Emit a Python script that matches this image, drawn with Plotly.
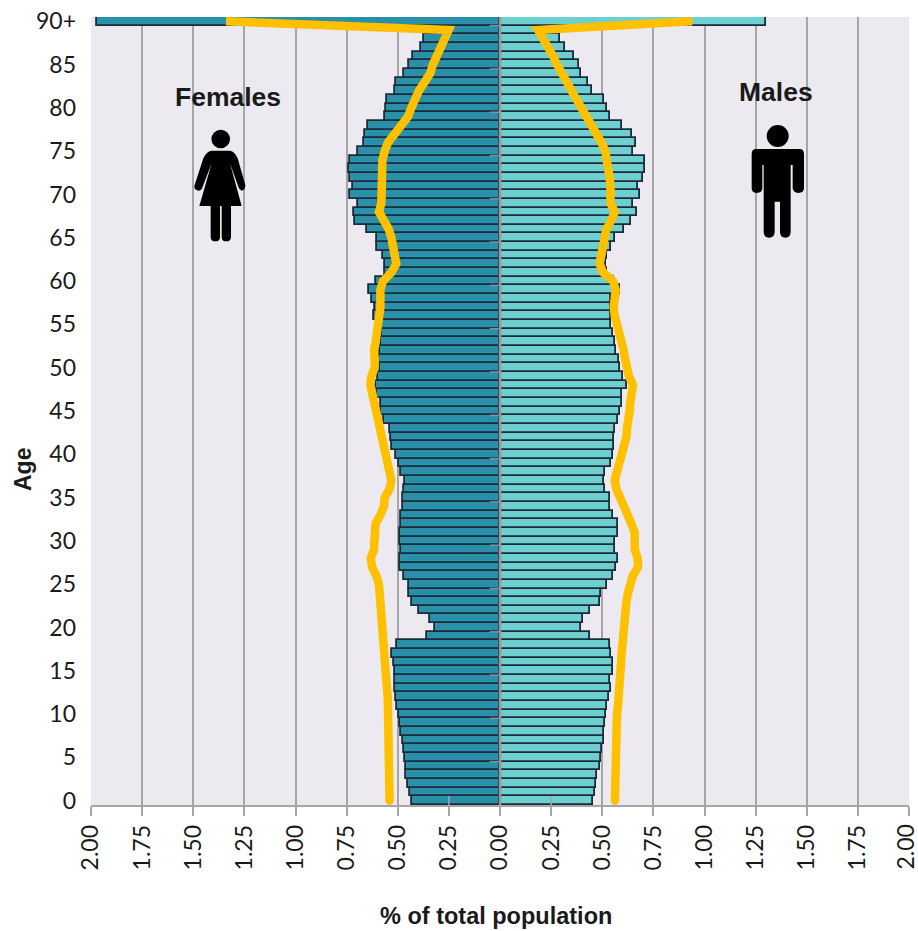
import plotly.graph_objects as go

ages = list(range(91))
tick_ages = list(range(0, 91, 5))
tick_labels = [str(a) for a in tick_ages[:-1]] + ["90+"]
x_ticks = [-2, -1.75, -1.5, -1.25, -1, -0.75, -0.5, -0.25, 0, 0.25, 0.5, 0.75, 1, 1.25, 1.5, 1.75, 2]
x_labels = ["2.00", "1.75", "1.50", "1.25", "1.00", "0.75", "0.50", "0.25", "0.00", "0.25", "0.50", "0.75", "1.00", "1.25", "1.50", "1.75", ""]
last_x_label = "2.00"

females = [.432,.438,.451,.458,.458,.463,.469,.476,.482,.489,
           .496,.502,.507,.513,.513,.513,.520,.526,.502,.357,
           .319,.344,.394,.432,.445,.445,.469,.489,.489,.482,
           .489,.489,.482,.482,.476,.476,.469,.465,.482,.496,
           .507,.526,.533,.540,.567,.580,.584,.601,.608,.597,
           .588,.592,.585,.580,.575,.590,.614,.610,.628,.639,
           .608,.564,.564,.570,.601,.601,.652,.707,.714,.696,
           .733,.720,.733,.740,.733,.696,.665,.659,.645,.564,
           .557,.551,.515,.509,.469,.445,.425,.388,.370,.360,1.97]
males = [.456,.463,.469,.476,.489,.494,.500,.507,.507,.513,
         .520,.525,.531,.544,.538,.551,.551,.544,.538,.438,
         .394,.406,.438,.489,.494,.525,.551,.569,.575,.564,
         .564,.575,.575,.551,.538,.538,.513,.507,.513,.544,
         .551,.557,.557,.564,.577,.588,.595,.595,.619,.601,
         .588,.582,.569,.564,.553,.544,.544,.544,.544,.588,
         .557,.525,.520,.525,.544,.564,.608,.639,.670,.652,
         .683,.676,.701,.707,.707,.652,.663,.645,.595,.538,
         .525,.507,.451,.432,.394,.388,.363,.319,.293,.290,1.30]
females_line = [.540,.540,.540,.540,.540,.540,.540,.540,.540,.540,
                .541,.546,.549,.553,.556,.559,.561,.562,.564,.566,
                .569,.572,.575,.580,.585,.592,.605,.626,.632,.616,
                .614,.616,.608,.585,.567,.564,.540,.531,.540,.551,
                .564,.575,.585,.592,.595,.605,.611,.621,.634,.629,
                .613,.613,.616,.608,.601,.592,.588,.585,.585,.585,
                .572,.531,.507,.512,.523,.531,.544,.572,.592,.580,
                .580,.580,.580,.579,.575,.564,.548,.515,.482,.450,
                .434,.419,.396,.368,.341,.328,.306,.287,.266,.251,1.34]
males_line = [.562,.562,.562,.562,.562,.562,.562,.562,.562,.564,
              .572,.577,.582,.585,.587,.588,.592,.595,.598,.600,
              .601,.606,.610,.618,.626,.634,.650,.675,.673,.659,
              .654,.658,.642,.621,.601,.585,.569,.561,.572,.588,
              .601,.611,.618,.621,.631,.634,.637,.644,.650,.631,
              .618,.611,.605,.593,.588,.569,.561,.556,.561,.566,
              .553,.504,.487,.496,.496,.504,.520,.544,.561,.540,
              .544,.540,.536,.531,.525,.515,.496,.474,.447,.422,
              .398,.373,.349,.324,.295,.279,.259,.235,.210,.186,.94]

W, H = 918, 931
L, R, T, B = 91, 909, 17, 805
BAR_EDGE = "#1b2c38"
GRID = "#a6a6a6"
YELLOW = "#ffc000"
LW = 8.5

fig = go.Figure()
fig.add_bar(y=ages, x=[-v for v in females], orientation="h", width=1, base=0,
            marker=dict(color="#2a8fa8", line=dict(color=BAR_EDGE, width=1.8)), name="Females")
fig.add_bar(y=ages, x=males, orientation="h", width=1, base=0,
            marker=dict(color="#6ecfd0", line=dict(color=BAR_EDGE, width=1.8)), name="Males")
for series in (females_line, males_line):
    sign = -1 if series is females_line else 1
    xs = [sign * v for v in series]
    fig.add_scatter(x=xs, y=ages, mode="lines", line=dict(color=YELLOW, width=LW), hoverinfo="skip")
    fig.add_scatter(x=xs[:1], y=ages[:1], mode="markers", marker=dict(color=YELLOW, size=LW), hoverinfo="skip")


def px_path(points_str, ox, oy, scale=3.0):
    out = []
    for t in points_str.split():
        if "," in t:
            a, b = t.split(",")
            X = ox + float(a) / scale
            Y = oy + float(b) / scale
            out.append(f"{(X - L) / (R - L):.5f},{(B - Y) / (B - T):.5f}")
        else:
            out.append(t)
    return " ".join(out)


woman = ("M 125,212 L 180,212 Q 195,215 203,235 L 226,315 Q 226,330 215,332 Q 208,330 205,320 L 180,250 "
         "L 215,378 L 183,378 L 183,470 Q 183,484 168,484 Q 155,484 155,470 L 155,378 L 150,378 L 150,470 "
         "Q 150,484 136,484 Q 122,484 122,470 L 122,378 L 88,378 L 125,250 L 98,320 Q 95,332 85,332 "
         "Q 72,330 73,318 L 100,235 Q 108,215 125,212 Z")
man = ("M 78,222 L 208,222 Q 222,222 222,238 L 222,340 Q 222,354 205,354 Q 190,354 188,340 L 188,270 "
       "L 182,270 L 182,470 Q 182,488 166,488 Q 150,488 150,470 L 150,380 L 134,380 L 134,470 "
       "Q 134,488 117,488 Q 101,488 101,470 L 101,270 L 97,270 L 97,340 Q 97,354 80,354 Q 65,354 65,340 "
       "L 65,238 Q 65,222 78,222 Z")

shapes = [
    dict(type="path", xref="paper", yref="paper", path=px_path(woman, 170, 80), fillcolor="black", line=dict(width=0)),
    dict(type="path", xref="paper", yref="paper", path=px_path(man, 730, 75), fillcolor="black", line=dict(width=0)),
]
for cx, cy, r in ((220.7, 139, 9.3), (777.7, 136, 11)):
    shapes.append(dict(type="circle", xref="paper", yref="paper", fillcolor="black", line=dict(width=0),
                       x0=(cx - r - L) / (R - L), x1=(cx + r - L) / (R - L),
                       y0=(B - cy - r) / (B - T), y1=(B - cy + r) / (B - T)))
# centre axis with its tick marks, drawn over the bars
shapes.append(dict(type="line", xref="x", yref="paper", x0=0, x1=0, y0=0, y1=1, line=dict(color="#9a9a9a", width=2.5)))
for a in tick_ages[1:]:
    shapes.append(dict(type="line", xref="x", yref="y", x0=-0.05, x1=0, y0=a - 0.5, y1=a - 0.5,
                       line=dict(color="#8a8f95", width=1.5)))
for xv in (-0.25, 0.25):
    shapes.append(dict(type="line", xref="x", yref="y", x0=xv, x1=xv, y0=-0.5, y1=0.55,
                       line=dict(color=GRID, width=1.5)))

title_color = "#1a1a1a"


def px_note(text, X, Y, family="Liberation Sans", size=26.5, angle=0, yanchor="middle"):
    return dict(text=text, x=(X - L) / (R - L), y=(B - Y) / (B - T), xref="paper", yref="paper",
                xanchor="center", yanchor=yanchor, textangle=angle, showarrow=False,
                font=dict(family=family, size=size, color=title_color))


fig.update_layout(
    width=W, height=H, autosize=False,
    margin=dict(l=L, r=W - R, t=T, b=H - B, pad=0),
    paper_bgcolor="white", plot_bgcolor="#eceaf0",
    barmode="overlay", bargap=0, showlegend=False,
    font=dict(family="Lato", color=title_color),
    shapes=shapes,
    xaxis=dict(range=[-2, 2], tickmode="array", tickvals=x_ticks, ticktext=x_labels, tickangle=-90,
               tickfont=dict(family="Lato", size=23), ticks="outside", ticklen=9, tickwidth=1.5, tickcolor=GRID,
               showgrid=True, gridcolor=GRID, gridwidth=1.5, zeroline=False, automargin=False,
               showline=True, linecolor=GRID, linewidth=1.5),
    yaxis=dict(range=[-0.5, 90.5], tickmode="array", tickvals=tick_ages, ticktext=tick_labels, automargin=False,
               tickfont=dict(family="Lato", size=23), ticklabelstandoff=14, ticks="",
               showgrid=False, zeroline=False, showline=False),
    annotations=[
        px_note("<b>Females</b>", 227.5, 97),
        px_note("<b>Males</b>", 776, 92),
        px_note("<b>Age</b>", 23, 470, size=23, angle=-90),
        px_note("<b>% of total population</b>", 496, 916, size=23.5),
        px_note(last_x_label, 905, 823, family="Lato", size=23, angle=-90, yanchor="top"),
    ],
)
fig.write_html("out.html", config=dict(displayModeBar=False), post_script="document.body.style.margin='0';")
